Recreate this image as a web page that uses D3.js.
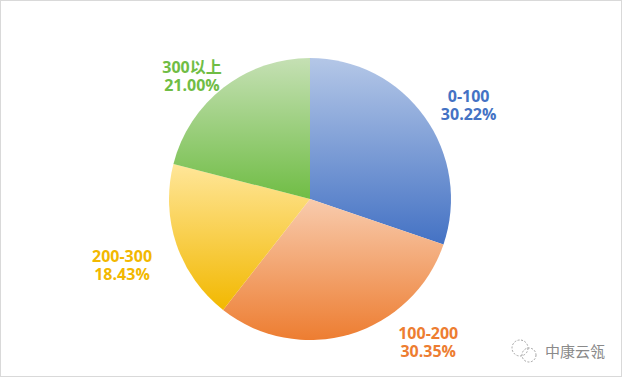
<!DOCTYPE html>
<html>
<head>
<meta charset="utf-8">
<script src="https://cdn.jsdelivr.net/npm/d3@7/dist/d3.min.js"></script>
<style>
  html, body { margin: 0; padding: 0; background: #fff; }
  svg { display: block; }
  text { font-family: "Open Sans", "Noto Sans CJK SC", sans-serif; }
</style>
</head>
<body>
<div id="chart"></div>
<script>
// values
const categories = ["0-100", "100-200", "200-300", "300以上"];
const shares = [30.22, 30.35, 18.43, 21.00];
const topColors = ["#b4c7e7", "#f8cbad", "#ffe699", "#c5e0b4"];
const bottomColors = ["#4472c4", "#ed7d31", "#f2b800", "#70bd45"];
const labelColors = ["#4472c4", "#ed7d31", "#f2b800", "#70bd45"];

const width = 623, height = 379;
const cx = 310, cy = 199, radius = 141;

const svg = d3.select("#chart").append("svg")
  .attr("width", width)
  .attr("height", height);

// thin frame round the chart
svg.append("rect")
  .attr("x", 0.5).attr("y", 0.5)
  .attr("width", width - 2).attr("height", height - 3)
  .attr("fill", "#fff")
  .attr("stroke", "#d9d9d9");

const defs = svg.append("defs");
categories.forEach((c, i) => {
  const g = defs.append("linearGradient")
    .attr("id", "grad" + i)
    .attr("x1", 0).attr("y1", 0).attr("x2", 0).attr("y2", 1);
  g.append("stop").attr("offset", "0%").attr("stop-color", topColors[i]);
  g.append("stop").attr("offset", "100%").attr("stop-color", bottomColors[i]);
});

const pie = d3.pie().sort(null)(shares);
const arc = d3.arc().innerRadius(0).outerRadius(radius);
const rimArc = d3.arc().innerRadius(radius).outerRadius(radius);

svg.append("g")
  .attr("transform", `translate(${cx},${cy})`)
  .selectAll("path")
  .data(pie)
  .join("path")
    .attr("d", arc)
    .attr("fill", (d, i) => `url(#grad${i})`);

// labels were dragged off the rim in the original, so each has its own nudge
const labelNudgeX = [44, 78, -54.5, -31.6];
const labelNudgeY = [-12, 8, 21, -12];

const labels = svg.append("g")
  .attr("transform", `translate(${cx},${cy})`)
  .selectAll("text")
  .data(pie)
  .join("text")
    .attr("text-anchor", "middle")
    .attr("font-size", 16)
    .attr("font-weight", 700)
    .attr("fill", (d, i) => labelColors[i])
    .attr("transform", (d, i) => {
      const [x, y] = rimArc.centroid(d);
      return `translate(${x + labelNudgeX[i]},${y + labelNudgeY[i]})`;
    });

labels.append("tspan")
  .attr("x", 0).attr("y", -3)
  .text((d, i) => categories[i]);
labels.append("tspan")
  .attr("x", 0).attr("y", 15)
  .text((d, i) => d3.format(".2f")(shares[i]) + "%");

// watermark
const mark = svg.append("g").attr("fill", "none").attr("stroke", "#a5a5a5");
mark.append("circle").attr("cx", 520).attr("cy", 348).attr("r", 8).attr("stroke-dasharray", "2 1.5");
mark.append("circle").attr("cx", 529).attr("cy", 355).attr("r", 7).attr("stroke-dasharray", "2 1.5");
svg.append("text")
  .attr("x", 545).attr("y", 357)
  .attr("font-size", 15)
  .attr("fill", "#8a8a8a")
  .style("font-family", '"Noto Sans CJK SC", sans-serif')
  .text("中康云瓴");
</script>
</body>
</html>
